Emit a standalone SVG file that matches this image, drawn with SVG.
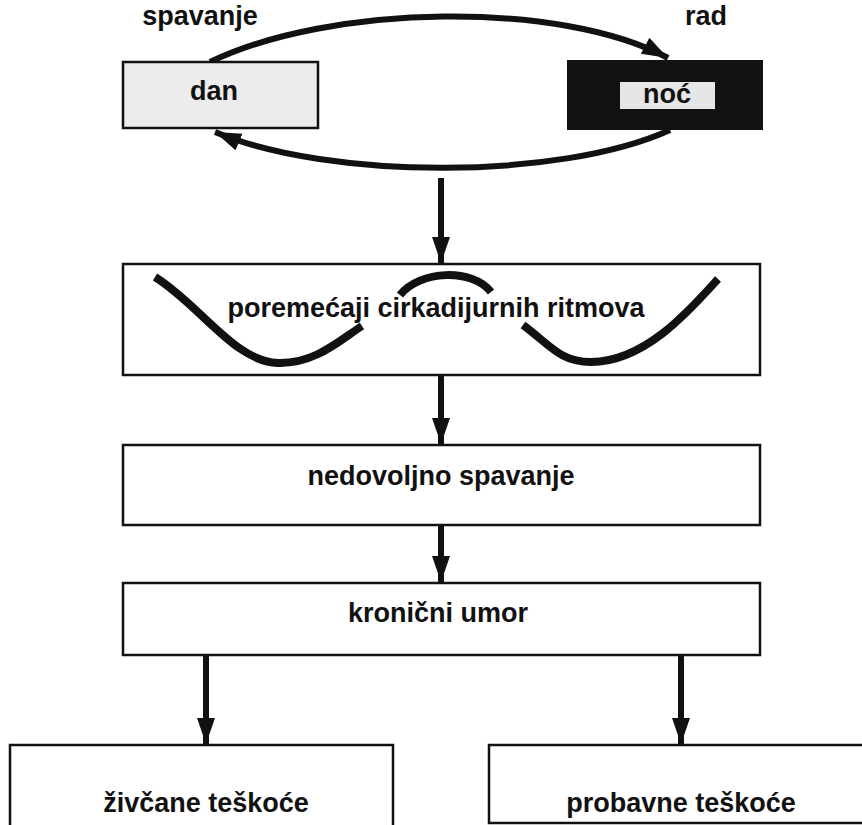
<svg xmlns="http://www.w3.org/2000/svg" width="862" height="825" viewBox="0 0 862 825">
<defs>
<style>
.t{font-family:"Liberation Sans",Arial,sans-serif;font-weight:bold;font-size:27px;fill:#111;text-anchor:middle}
.box{fill:#fff;stroke:#111;stroke-width:2.5}
.con{fill:none;stroke:#111;stroke-width:6}
.wave{fill:none;stroke:#111;stroke-width:8}
</style>
<marker id="ah" markerUnits="userSpaceOnUse" markerWidth="30" markerHeight="20" refX="26" refY="9" orient="auto">
<path d="M0,0 L26,9 L0,18 z" fill="#111"/>
</marker>
<marker id="vh" markerUnits="userSpaceOnUse" markerWidth="30" markerHeight="20" refX="26" refY="9" orient="auto">
<path d="M0,0 L26,9 L0,18 z" fill="#111"/>
</marker>
</defs>
<rect width="862" height="825" fill="#fff"/>
<g id="connectors">
<path class="con" d="M210,62 C330,4 560,0 668,58" marker-end="url(#ah)"/>
<path class="con" d="M670,130 C560,180 330,180 215,132" marker-end="url(#ah)"/>
<line class="con" x1="441" y1="178" x2="441" y2="263" marker-end="url(#vh)"/>
<line class="con" x1="441" y1="375" x2="441" y2="444" marker-end="url(#vh)"/>
<line class="con" x1="441" y1="525" x2="441" y2="582" marker-end="url(#vh)"/>
<line class="con" x1="206" y1="655" x2="206" y2="744" marker-end="url(#vh)"/>
<line class="con" x1="681" y1="655" x2="681" y2="744" marker-end="url(#vh)"/>
</g>
<g id="label-spavanje"><text class="t" x="200" y="25">spavanje</text></g>
<g id="label-rad"><text class="t" x="706" y="25">rad</text></g>
<g id="dan">
<rect x="123" y="62" width="195" height="66" fill="#ececec" stroke="#111" stroke-width="2.5"/>
<text class="t" x="214" y="100">dan</text>
</g>
<g id="noc">
<rect x="567" y="60" width="196" height="70" fill="#111"/>
<rect x="620" y="82" width="95" height="27" fill="#e6e6e6"/>
<text class="t" x="667" y="103">noć</text>
</g>
<g id="poremecaji">
<rect class="box" x="123" y="264" width="637" height="111"/>
<path class="wave" d="M155,277 C200,305 235,362 278,363 C315,364 340,340 362,326"/>
<path class="wave" d="M400,295 C420,270 472,268 491,292"/>
<path class="wave" d="M523,325 C550,345 560,362 591,362 C645,362 690,310 718,279"/>
<text class="t" x="436" y="317">poremećaji cirkadijurnih ritmova</text>
</g>
<g id="nedovoljno">
<rect class="box" x="123" y="445" width="637" height="80"/>
<text class="t" x="441" y="485">nedovoljno spavanje</text>
</g>
<g id="kronicni">
<rect class="box" x="123" y="583" width="637" height="72"/>
<text class="t" x="438" y="622">kronični umor</text>
</g>
<g id="zivcane">
<path class="box" d="M10,830 L10,745 L393,745 L393,830" fill="#fff"/>
<text class="t" x="206" y="812">živčane teškoće</text>
</g>
<g id="probavne">
<path class="box" d="M870,823 L489,823 L489,745 L870,745" fill="#fff"/>
<text class="t" x="681" y="812">probavne teškoće</text>
</g>
</svg>
